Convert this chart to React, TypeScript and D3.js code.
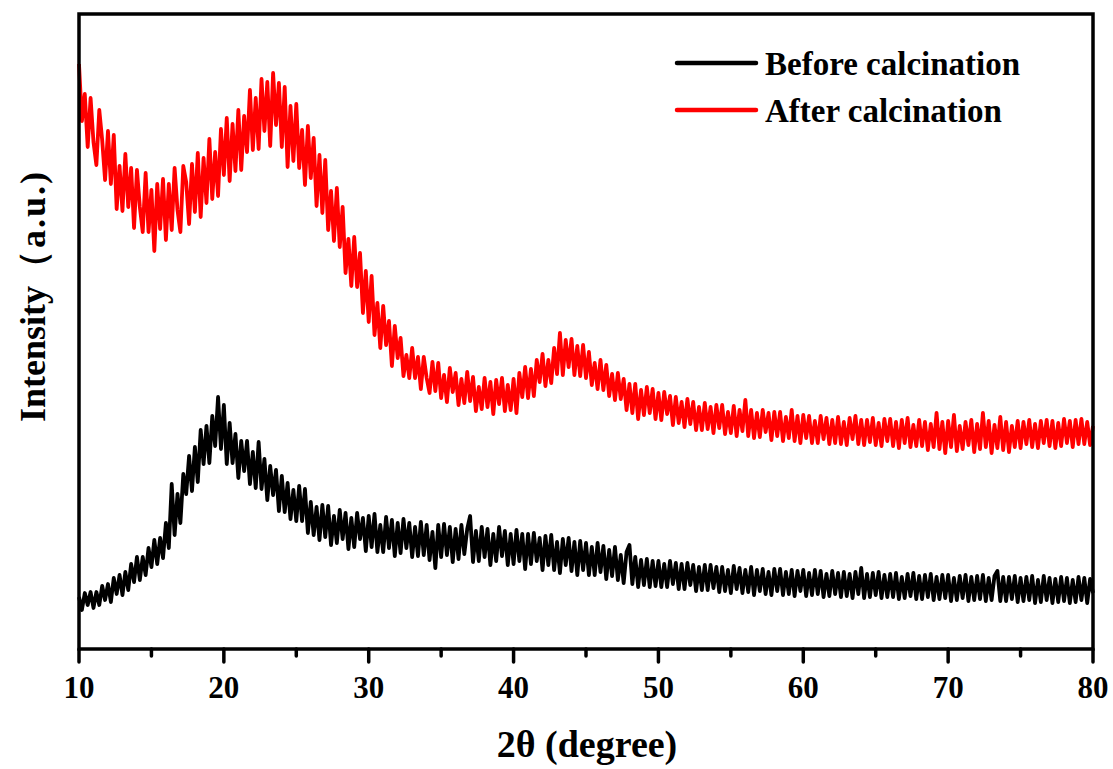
import { line, range, scaleLinear, select } from 'd3';
import React, { useEffect, useRef } from 'react';

const width = 1113;
const height = 769;
const plotLeft = 79;
const plotRight = 1093;
const plotTop = 14;
const plotBottom = 649;
const fontFamily = '"Times New Roman", "Liberation Serif", serif';

const majorTicks = [10, 20, 30, 40, 50, 60, 70, 80];
const minorTicks = [15, 25, 35, 45, 55, 65, 75];
const legendLabels = ['Before calcination', 'After calcination'];
const seriesColors = ['#000000', '#ff0000'];
const xTitle = '2θ (degree)';
const yTitleMain = 'Intensity';
const yTitleUnit = '（a.u.)';

// 2theta grid, 0.2 deg step from 10 to 80
const twoTheta = range(0, 351).map(i => 10 + i * 0.2);

// intensities (a.u.), 5 points per degree
const beforeCalcination = [
  52, 39, 56, 44, 57, 41, 57, 44, 63, 49, 65, 47, 71, 55, 74,
  54, 77, 59, 85, 67, 92, 69, 92, 74, 101, 82, 109, 85, 111, 91,
  126, 101, 165, 114, 155, 126, 175, 155, 193, 158, 202, 167, 219, 185, 223,
  186, 233, 203, 252, 200, 244, 185, 226, 186, 215, 171, 208, 178, 208, 165,
  197, 161, 207, 160, 190, 149, 183, 154, 179, 138, 173, 137, 166, 130, 159,
  128, 163, 128, 160, 116, 147, 114, 142, 109, 144, 112, 143, 104, 133, 106,
  139, 110, 136, 100, 131, 102, 136, 110, 131, 98, 133, 102, 135, 97, 124,
  97, 132, 101, 129, 93, 126, 96, 130, 101, 126, 92, 122, 93, 127, 94,
  124, 89, 117, 81, 124, 92, 125, 94, 122, 87, 120, 90, 124, 95, 120,
  133, 87, 118, 88, 122, 92, 120, 84, 115, 88, 122, 93, 118, 84, 115,
  85, 119, 88, 115, 80, 115, 85, 116, 88, 111, 79, 113, 84, 114, 79,
  107, 76, 110, 84, 111, 78, 107, 74, 108, 79, 106, 74, 102, 74, 106,
  77, 103, 70, 99, 73, 102, 69, 94, 66, 97, 104, 65, 92, 62, 89,
  64, 90, 62, 88, 63, 88, 62, 85, 62, 88, 65, 86, 60, 85, 60,
  86, 64, 84, 58, 82, 59, 84, 59, 84, 61, 82, 57, 82, 58, 79,
  56, 83, 60, 81, 56, 79, 57, 82, 54, 79, 58, 80, 55, 77, 54,
  80, 58, 80, 54, 77, 55, 79, 53, 78, 58, 79, 53, 76, 54, 79,
  55, 78, 52, 75, 53, 78, 55, 76, 52, 77, 53, 75, 51, 77, 55,
  81, 51, 75, 52, 76, 54, 77, 51, 74, 52, 75, 52, 76, 50, 72,
  51, 75, 53, 76, 50, 73, 50, 74, 52, 75, 49, 72, 50, 74, 51,
  74, 48, 71, 49, 73, 51, 74, 48, 72, 49, 73, 50, 74, 48, 71,
  49, 73, 78, 48, 72, 48, 72, 50, 73, 47, 71, 48, 72, 49, 73,
  46, 69, 47, 73, 49, 71, 46, 70, 47, 72, 48, 71, 46, 69, 47,
  72, 49, 71, 46, 70, 56
];

const afterCalcination = [
  585, 528, 555, 502, 551, 507, 484, 539, 509, 469, 518, 465, 514, 440, 483,
  438, 495, 442, 481, 421, 479, 442, 417, 476, 417, 459, 398, 465, 420, 470,
  409, 465, 419, 481, 439, 417, 483, 467, 425, 485, 437, 496, 432, 491, 446,
  510, 450, 497, 453, 520, 474, 531, 468, 525, 478, 539, 479, 533, 497, 559,
  499, 551, 500, 570, 518, 567, 503, 576, 524, 566, 502, 562, 482, 543, 488,
  545, 481, 519, 464, 523, 471, 511, 443, 494, 436, 489, 419, 458, 408, 461,
  402, 442, 376, 410, 363, 412, 362, 396, 336, 378, 327, 373, 314, 346, 301,
  343, 304, 328, 283, 323, 291, 311, 273, 294, 271, 301, 271, 292, 260, 292,
  271, 256, 287, 258, 286, 251, 274, 247, 281, 257, 276, 244, 270, 246, 277,
  248, 272, 238, 262, 240, 271, 242, 267, 235, 269, 245, 271, 238, 264, 239,
  270, 236, 276, 252, 282, 251, 280, 253, 289, 267, 295, 263, 289, 266, 301,
  275, 316, 274, 309, 282, 310, 274, 303, 273, 304, 271, 297, 264, 286, 260,
  289, 259, 284, 253, 275, 249, 276, 250, 270, 239, 265, 236, 265, 230, 259,
  234, 262, 236, 260, 230, 256, 229, 257, 235, 253, 224, 252, 226, 247, 222,
  250, 225, 247, 219, 242, 219, 246, 220, 242, 216, 244, 221, 244, 215, 237,
  216, 243, 213, 239, 218, 249, 213, 239, 211, 236, 212, 239, 217, 236, 209,
  237, 213, 237, 208, 232, 211, 239, 208, 233, 206, 234, 211, 233, 206, 228,
  206, 233, 210, 231, 205, 229, 206, 232, 205, 227, 204, 231, 210, 233, 205,
  229, 204, 229, 207, 231, 204, 226, 203, 230, 208, 230, 203, 227, 201, 229,
  206, 231, 202, 224, 203, 229, 203, 227, 199, 225, 202, 236, 200, 227, 196,
  228, 202, 234, 198, 223, 200, 227, 204, 229, 197, 225, 200, 236, 202, 228,
  196, 224, 201, 232, 199, 227, 197, 223, 202, 228, 201, 227, 205, 229, 202,
  225, 201, 228, 206, 229, 203, 228, 201, 226, 203, 230, 206, 228, 202, 229,
  205, 230, 205, 227, 204, 223
];

function App() {
  const svgRef = useRef(null);

  useEffect(() => {
    const svg = select(svgRef.current);
    svg.selectAll('*').remove();

    const xScale = scaleLinear().domain([10, 80]).range([plotLeft, plotRight]);
    const yScale = scaleLinear().domain([0, 635]).range([plotBottom, plotTop]);

    const pattern = line()
      .x((d, i) => xScale(twoTheta[i]))
      .y(d => yScale(d));

    const allSeries = [beforeCalcination, afterCalcination];
    allSeries.forEach((values, k) => {
      svg.append('path')
        .attr('d', pattern(values))
        .attr('fill', 'none')
        .attr('stroke', seriesColors[k])
        .attr('stroke-width', 3.8)
        .attr('stroke-linejoin', 'round');
    });

    svg.append('rect')
      .attr('x', plotLeft)
      .attr('y', plotTop)
      .attr('width', plotRight - plotLeft)
      .attr('height', plotBottom - plotTop)
      .attr('fill', 'none')
      .attr('stroke', '#000')
      .attr('stroke-width', 3.5);

    const ticks = svg.append('g').attr('stroke', '#000').attr('stroke-width', 3.5).attr('stroke-linecap', 'round');
    ticks.selectAll('.major')
      .data(majorTicks)
      .enter().append('line')
      .attr('x1', d => xScale(d)).attr('x2', d => xScale(d))
      .attr('y1', plotBottom).attr('y2', plotBottom + 13);
    ticks.selectAll('.minor')
      .data(minorTicks)
      .enter().append('line')
      .attr('x1', d => xScale(d)).attr('x2', d => xScale(d))
      .attr('y1', plotBottom).attr('y2', plotBottom + 7);

    svg.append('g')
      .selectAll('text')
      .data(majorTicks)
      .enter().append('text')
      .attr('x', d => xScale(d))
      .attr('y', 698)
      .attr('text-anchor', 'middle')
      .attr('font-family', fontFamily)
      .attr('font-weight', 'bold')
      .attr('font-size', 31)
      .text(d => d);

    svg.append('text')
      .attr('x', 587)
      .attr('y', 757)
      .attr('text-anchor', 'middle')
      .attr('font-family', fontFamily)
      .attr('font-weight', 'bold')
      .attr('font-size', 38)
      .text(xTitle);

    const yLabel = svg.append('text')
      .attr('transform', 'translate(45, 296) rotate(-90)')
      .attr('text-anchor', 'middle')
      .attr('font-family', fontFamily)
      .attr('font-weight', 'bold')
      .attr('font-size', 36);
    yLabel.append('tspan').text(yTitleMain);
    yLabel.append('tspan').attr('letter-spacing', 2).text(yTitleUnit);

    const legend = svg.append('g');
    legendLabels.forEach((label, k) => {
      const y = 63 + k * 47;
      legend.append('line')
        .attr('x1', 677).attr('x2', 756)
        .attr('y1', y).attr('y2', y)
        .attr('stroke', seriesColors[k])
        .attr('stroke-width', 4.5)
        .attr('stroke-linecap', 'round');
      legend.append('text')
        .attr('x', 765)
        .attr('y', y + 12)
        .attr('font-family', fontFamily)
        .attr('font-weight', 'bold')
        .attr('font-size', 33)
        .text(label);
    });
  }, []);

  return (
    <svg
      ref={svgRef}
      width={width}
      height={height}
      style={{ position: 'absolute', left: 0, top: 0, background: '#fff' }}
    ></svg>
  );
}

export default App;
